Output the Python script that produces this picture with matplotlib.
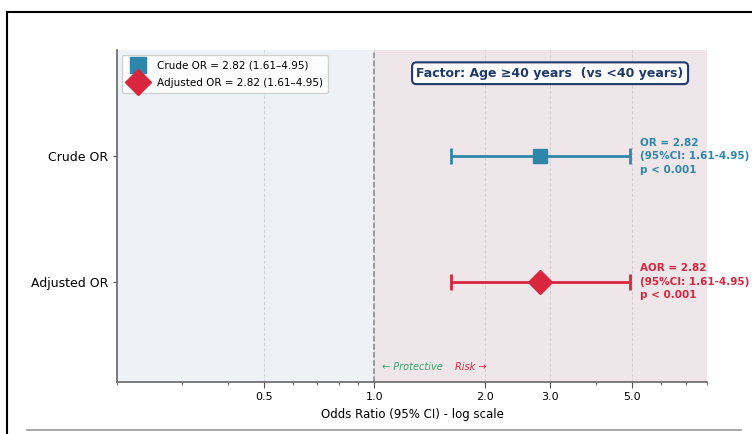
import numpy as np
import matplotlib
matplotlib.use("Agg")
import matplotlib.pyplot as plt
from matplotlib.lines import Line2D

# data
labels = ["Crude OR", "Adjusted OR"]
ors = [2.82, 2.82]
ci_low = [1.61, 1.61]
ci_high = [4.95, 4.95]
p_text = ["p < 0.001", "p < 0.001"]
prefix = ["OR", "AOR"]
y_pos = [1, 0]
colors = ["#2E86AB", "#D7263D"]
markers = ["s", "D"]
xticks = [0.5, 1.0, 2.0, 3.0, 5.0]

fig = plt.figure(figsize=(7.52, 4.34), dpi=100)
ax = fig.add_axes([0.1556, 0.1198, 0.7846, 0.765])

# shaded halves
ax.axvspan(0.2, 1.0, color="#eef2f7", zorder=0)
ax.axvspan(1.0, 8.0, color="#efe6ea", zorder=0)
ax.axvline(1.0, color="#888888", ls="--", lw=1.1, zorder=1)

for i in range(len(labels)):
    ax.errorbar(ors[i], y_pos[i],
                xerr=[[ors[i] - ci_low[i]], [ci_high[i] - ors[i]]],
                fmt=markers[i], color=colors[i], ecolor=colors[i],
                elinewidth=2, capsize=6, capthick=2,
                markersize=10 if markers[i] == "s" else 12, zorder=3)
    ax.text(ci_high[i] * 1.06, y_pos[i],
            f"{prefix[i]} = {ors[i]:.2f}\n(95%CI: {ci_low[i]:.2f}-{ci_high[i]:.2f})\n{p_text[i]}",
            color=colors[i], fontsize=7.5, fontweight="bold", va="center", ha="left",
            clip_on=False, linespacing=1.45)

ax.set_xscale("log")
ax.set_xlim(0.2, 8.0)
ax.set_ylim(-0.8, 1.85)
ax.set_xticks(xticks)
ax.set_xticklabels([f"{t:.1f}" for t in xticks], fontsize=8)
ax.set_yticks(y_pos)
ax.set_yticklabels(labels, fontsize=9)
ax.tick_params(axis="y", length=3, color="#555555")
ax.tick_params(axis="x", which="major", length=4, color="#555555")
ax.tick_params(axis="x", which="minor", length=2, color="#555555")
ax.grid(True, axis="x", which="major", ls="--", color="#cccccc", lw=0.7, alpha=0.8)
ax.set_axisbelow(True)
ax.set_xlabel("Odds Ratio (95% CI) - log scale", fontsize=8.5)

for s in ["top", "right"]:
    ax.spines[s].set_visible(False)
for s in ["left", "bottom"]:
    ax.spines[s].set_color("#666666")
    ax.spines[s].set_linewidth(1.2)

ax.text(1.05, -0.68, "\u2190 Protective", color="#3aa76d", fontsize=7, style="italic",
        ha="left", va="center")
ax.text(1.66, -0.68, "Risk \u2192", color="#D7263D", fontsize=7, style="italic",
        ha="left", va="center")

ax.text(0.734, 0.93, "Factor: Age \u226540 years  (vs <40 years)", transform=ax.transAxes,
        ha="center", va="center", fontsize=9, fontweight="bold", color="#1F3A6B",
        bbox=dict(boxstyle="round,pad=0.35", fc="white", ec="#1F3A6B", lw=1.5))

handles = [
    Line2D([], [], marker="s", color=colors[0], ls="none", markersize=11),
    Line2D([], [], marker="D", color=colors[1], ls="none", markersize=13),
]
ax.legend(handles, [f"Crude OR = {ors[0]:.2f} ({ci_low[0]:.2f}\u2013{ci_high[0]:.2f})",
                    f"Adjusted OR = {ors[1]:.2f} ({ci_low[1]:.2f}\u2013{ci_high[1]:.2f})"],
          loc="upper left", fontsize=7.5, framealpha=0.9, handletextpad=0.8,
          borderpad=0.5, labelspacing=0.7)

# outer frame lines
fig.add_artist(Line2D([7 / 752, 7 / 752], [0, 1 - 12 / 434], color="black", lw=1.5))
fig.add_artist(Line2D([7 / 752, 1], [1 - 12 / 434, 1 - 12 / 434], color="black", lw=1.5))
fig.add_artist(Line2D([27 / 752, 741 / 752], [4 / 434, 4 / 434], color="#999999", lw=1.2))

fig.savefig("out.png", dpi=100)
